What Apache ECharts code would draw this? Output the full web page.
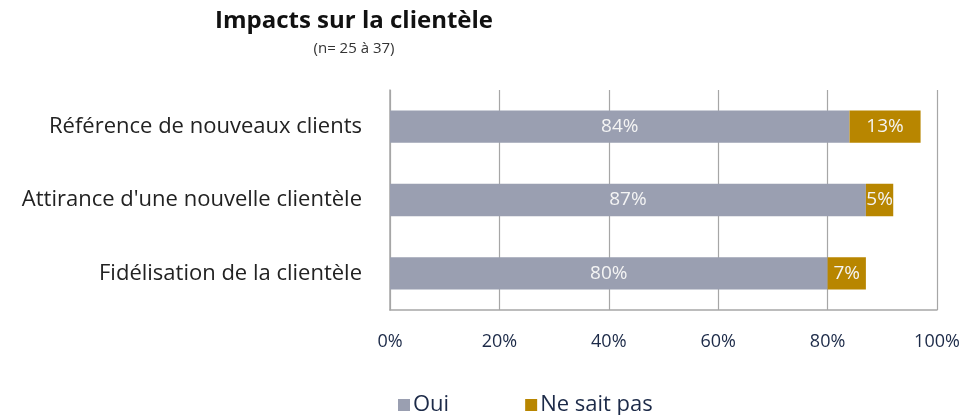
<!DOCTYPE html>
<html>
<head>
<meta charset="utf-8">
<script src="https://cdn.jsdelivr.net/npm/echarts@6/dist/echarts.min.js"></script>
<style>
  html, body { margin: 0; padding: 0; background: #fff; }
  #main { width: 964px; height: 415px; }
</style>
</head>
<body>
<div id="main"></div>
<script>
// données du graphique
const categories = ['Référence de nouveaux clients', "Attirance d'une nouvelle clientèle", 'Fidélisation de la clientèle']
const oui = [84, 87, 80]
const neSaitPas = [13, 5, 7]
const xTicks = [0, 20, 40, 60, 80, 100]

const labelFont = 'Open Sans'

var myChart = echarts.init(document.getElementById('main'))
const option = {
  animation: false,
  title: {
    text: 'Impacts sur la clientèle',
    subtext: '(n= 25 à 37)',
    left: 349,
    textAlign: 'center',
    top: 4,
    itemGap: 8,
    textStyle: { fontFamily: labelFont, fontSize: 24, fontWeight: 'bold', color: '#111' },
    subtextStyle: { fontFamily: labelFont, fontSize: 15, color: '#333' }
  },
  legend: {
    left: 393,
    top: 389,
    itemWidth: 12,
    itemHeight: 12,
    itemGap: 76,
    icon: 'rect',
    textStyle: { fontFamily: labelFont, fontSize: 22, color: '#1c2a48', padding: [0, 0, 0, -2] },
    data: ['Oui', 'Ne sait pas']
  },
  grid: { left: 390, right: 27, top: 90, bottom: 105 },
  xAxis: {
    type: 'value',
    min: xTicks[0],
    max: xTicks[xTicks.length - 1],
    interval: 20,
    axisLine: { show: true, lineStyle: { color: '#a6a6a6', width: 1.5 } },
    axisTick: { show: false },
    splitLine: { show: true, lineStyle: { color: '#a6a6a6', width: 1.2 } },
    axisLabel: {
      margin: 23,
      fontFamily: labelFont,
      fontSize: 18,
      color: '#1c2a48',
      formatter: '{value}%'
    }
  },
  yAxis: {
    type: 'category',
    inverse: true,
    data: categories,
    axisLine: { show: true, lineStyle: { color: '#a6a6a6', width: 1.5 } },
    axisTick: { show: false },
    axisLabel: { margin: 28, fontFamily: labelFont, fontSize: 22, color: '#222' }
  },
  series: [
    {
      name: 'Oui',
      type: 'bar',
      stack: 'total',
      barWidth: '44%',
      data: oui,
      itemStyle: { color: '#9a9fb1' },
      label: {
        show: true,
        position: 'inside',
        formatter: '{c}%',
        fontFamily: labelFont,
        fontSize: 19,
        color: '#f4f4f4'
      }
    },
    {
      name: 'Ne sait pas',
      type: 'bar',
      stack: 'total',
      data: neSaitPas,
      itemStyle: { color: '#b88600' },
      label: {
        show: true,
        position: 'inside',
        formatter: '{c}%',
        fontFamily: labelFont,
        fontSize: 19,
        color: '#f4f4f4'
      }
    }
  ]
}
myChart.setOption(option)
</script>
</body>
</html>
